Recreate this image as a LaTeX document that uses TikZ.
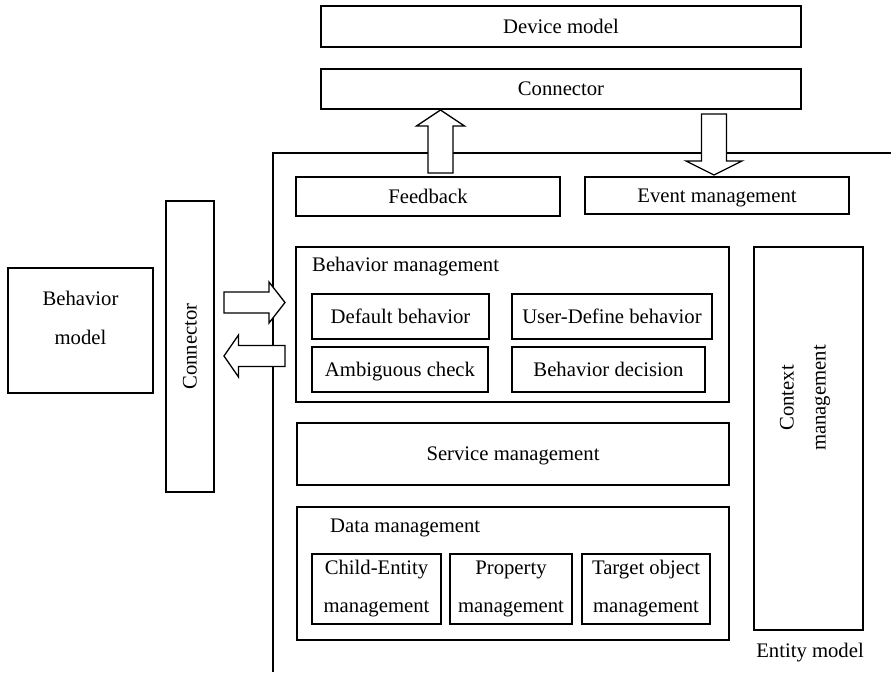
\documentclass[tikz,border=0pt]{standalone}
\usepackage{fontspec}
\setmainfont{Liberation Serif}
\usetikzlibrary{calc}
\begin{document}
\begin{tikzpicture}[x=1pt,y=-1pt,
  every node/.style={font=\fontsize{20.7}{38}\selectfont},
  box/.style={draw,line width=1.4pt,inner sep=0pt,align=center},
  oneline/.style={text height=17pt,text depth=4pt},
  blockarrow/.style={draw,line width=1.3pt,fill=white,line join=miter}]
\useasboundingbox (0,0) rectangle (891,672);
% entity model outer frame (extends beyond picture)
\draw[line width=1.4pt] (273,672) -- (273,153) -- (891,153);
\node[box,oneline,minimum width=480,minimum height=41] (device) at (561,26.5) {Device model};
\node[box,oneline,minimum width=480,minimum height=40] (conntop) at (561,89) {Connector};
\node[box,oneline,minimum width=264,minimum height=39] (feedback) at (428,196.5) {Feedback};
\node[box,oneline,minimum width=264,minimum height=37] (event) at (717,195.5) {Event management};
\node[box,minimum width=433,minimum height=155] (behmgmt) at (512.5,324.5) {};
\node[anchor=west,inner sep=0pt,oneline] (behmgmtlabel) at (312,265) {Behavior management};
\node[box,oneline,minimum width=177,minimum height=45] (default) at (400.5,316.5) {Default behavior};
\node[box,oneline,minimum width=200,minimum height=45] (userdef) at (612,316.5) {User-Define behavior};
\node[box,oneline,minimum width=176,minimum height=45] (ambig) at (400,369.5) {Ambiguous check};
\node[box,oneline,minimum width=193,minimum height=45] (decision) at (608.5,369.5) {Behavior decision};
\node[box,oneline,minimum width=432,minimum height=62] (service) at (513,454) {Service management};
\node[box,minimum width=432,minimum height=133] (data) at (513,573.5) {};
\node[anchor=west,inner sep=0pt,oneline] (datalabel) at (330,526) {Data management};
\node[box,minimum width=129,minimum height=70] (child) at (376.5,589) {Child-Entity\\management};
\node[box,minimum width=122,minimum height=70] (property) at (511,589) {Property\\management};
\node[box,minimum width=128,minimum height=70] (target) at (646,589) {Target object\\management};
\node[box,minimum width=109,minimum height=383] (context) at (808.5,438.5) {};
\node[rotate=90,align=center,inner sep=0pt,font=\fontsize{20.7}{32}\selectfont] (contextlabel) at (805,398) {Context\\management};
\node[inner sep=0pt,oneline] (entitylabel) at (810,651) {Entity model};
\node[box,minimum width=145,minimum height=125] (behmodel) at (80.5,330.5) {};
\node[align=center,inner sep=0pt,font=\fontsize{20.7}{39}\selectfont] (behmodellabel) at (80.5,317.5) {Behavior\\model};
\node[box,oneline,minimum width=291,minimum height=48,rotate=90] (connleft) at (190,346.5) {Connector};
% block arrows
\coordinate (upbase) at (440.5,173);
\coordinate (uptip) at (440.5,110);
\draw[blockarrow] ($(upbase)+(-12.5,0)$) -- (428,126) -- (416.5,126) -- (uptip) -- (464.5,126) -- (453,126) -- (453,173) -- cycle;
\coordinate (downtip) at (714,175);
\draw[blockarrow] (701.5,114) -- (726.5,114) -- (726.5,161) -- (742,161) -- (downtip) -- (686,161) -- (701.5,161) -- cycle;
\coordinate (righttip) at (285,302.5);
\draw[blockarrow] (224,292) -- (269,292) -- (269,282) -- (righttip) -- (269,323) -- (269,313) -- (224,313) -- cycle;
\coordinate (lefttip) at (224,356);
\draw[blockarrow] (285,345.5) -- (285,366.5) -- (238.5,366.5) -- (238.5,377) -- (lefttip) -- (238.5,335) -- (238.5,345.5) -- cycle;
\end{tikzpicture}
\end{document}
